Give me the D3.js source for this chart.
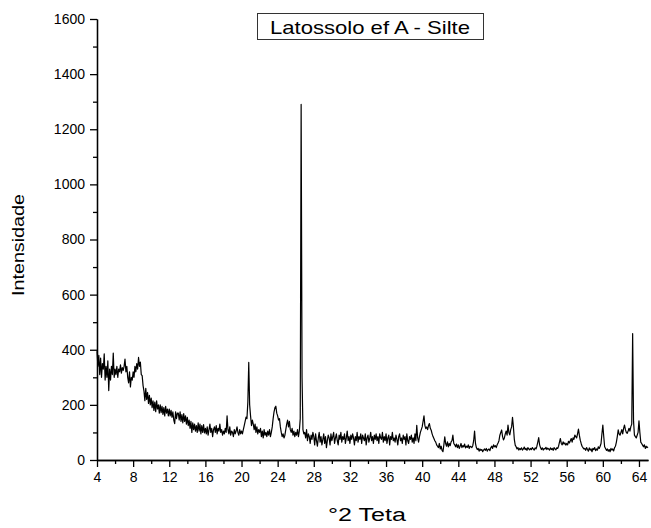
<!DOCTYPE html>
<html><head><meta charset="utf-8">
<script src="https://cdn.jsdelivr.net/npm/d3@7"></script>
<style>body{margin:0;background:#fff}svg{display:block}</style>
</head><body>
<script>
const title = "Latossolo ef A - Silte";
const xTitle = "°2 Teta";
const yTitle = "Intensidade";
const xStart = 4.0, xStep = 0.1;
const xTickValues = [4,8,12,16,20,24,28,32,36,40,44,48,52,56,60,64];
const xMinorTicks = [6,10,14,18,22,26,30,34,38,42,46,50,54,58,62];
const yTickValues = [0,200,400,600,800,1000,1200,1400,1600];
const yMinorTicks = [100,300,500,700,900,1100,1300,1500];
// intensity, one value per 0.1 degree from 4.0
const intensity = [
395,340,380,310,370,300,350,330,385,290,
340,300,360,252,330,290,340,310,388,300,
330,310,340,300,330,320,345,315,335,325,
340,366,320,340,300,280,320,265,300,290,
320,300,340,320,350,330,372,340,355,310,
306,270,250,215,260,220,245,205,235,200,
225,190,215,180,210,175,215,185,200,170,
200,172,195,165,190,160,195,170,185,160,
185,160,180,155,175,145,132,175,150,170,
170,145,175,140,165,135,168,140,160,130,
155,125,145,115,140,100,135,110,130,105,
125,100,135,105,130,95,125,100,128,98,
115,95,120,90,110,130,100,115,85,110,
120,100,125,95,115,105,130,100,110,90,
105,95,115,100,160,110,95,120,90,105,
100,85,110,95,105,120,100,90,110,95,
105,95,110,125,140,156,150,210,354,200,
160,125,145,130,110,130,100,120,95,110,
100,115,85,105,80,110,90,100,85,105,
90,110,85,100,120,150,175,190,195,170,
160,145,150,120,100,85,95,80,90,110,
130,145,120,140,110,100,115,90,105,85,
100,90,110,85,105,150,1290,300,110,95,
100,80,110,70,95,85,60,90,75,100,
85,55,95,70,50,80,100,65,85,55,
75,95,60,85,45,70,90,80,55,95,
70,85,100,60,80,95,70,55,90,75,
100,65,85,75,95,60,80,105,70,85,
60,90,75,95,80,55,85,70,100,65,
85,75,95,60,90,80,70,95,55,80,
90,65,80,100,70,85,60,90,75,95,
70,85,60,95,80,75,100,65,85,70,
95,60,80,90,55,85,75,100,70,80,
65,90,75,55,85,95,70,80,60,90,
75,85,55,95,70,60,85,75,90,65,
80,60,95,70,126,80,65,85,100,110,
120,140,160,125,114,120,110,125,132,115,
108,95,85,78,70,65,55,50,45,60,
40,50,35,30,55,84,60,50,66,48,
60,52,66,70,90,60,55,48,58,45,
55,42,50,60,45,52,48,58,44,50,
46,55,42,50,48,45,52,70,105,60,
45,38,42,32,40,35,38,30,36,40,
35,42,32,38,40,34,45,50,42,55,
48,52,45,55,62,70,90,100,109,85,
73,80,95,105,90,127,100,91,110,120,
155,120,75,54,48,40,45,36,42,38,
44,36,40,47,38,42,35,45,40,37,
42,38,45,40,36,44,40,50,65,81,
55,45,38,44,36,42,40,46,38,43,
40,36,44,38,42,35,45,40,37,44,
42,50,65,78,60,55,66,58,62,54,
60,55,68,62,70,78,65,80,75,90,
85,80,95,112,90,72,60,50,45,40,
42,35,45,38,32,44,36,40,30,42,
38,45,34,40,36,48,42,50,60,95,
127,85,48,42,35,40,32,38,30,42,
36,40,33,45,50,65,85,109,95,90,
100,110,95,115,127,110,100,97,105,115,
105,121,130,459,140,90,85,80,90,100,
142,100,65,60,54,48,55,42,50,45,
48
];
const data = intensity.map((v,i)=>({x: xStart + i*xStep, y: v}));

const W = 651, H = 528;
const svg = d3.select("body").append("svg").attr("width",W).attr("height",H)
  .style("font-family","'Liberation Sans', Arial, sans-serif");

const x = d3.scaleLinear().domain([4,65]).range([97,648]);
const y = d3.scaleLinear().domain([0,1600]).range([460,19]);

// line
svg.append("path").datum(data)
  .attr("fill","none").attr("stroke","#000").attr("stroke-width",1.2)
  .attr("stroke-linejoin","round")
  .attr("d", d3.line().x(d=>x(d.x)).y(d=>y(d.y)));

// x axis
const gx = svg.append("g").attr("transform","translate(0,460)");
gx.call(d3.axisBottom(x).tickValues(xTickValues).tickSize(7).tickSizeOuter(0).tickPadding(5).tickFormat(d3.format("d")));
gx.append("g").call(d3.axisBottom(x).tickValues(xMinorTicks).tickSize(4).tickSizeOuter(0).tickFormat(""));
gx.selectAll("text").attr("font-size",14).attr("fill","#000");

// y axis
const gy = svg.append("g").attr("transform","translate(97,0)");
gy.call(d3.axisLeft(y).tickValues(yTickValues).tickSize(7).tickSizeOuter(0).tickPadding(5).tickFormat(d3.format("d")));
gy.append("g").call(d3.axisLeft(y).tickValues(yMinorTicks).tickSize(4).tickSizeOuter(0).tickFormat(""));
gy.selectAll("text").attr("font-size",14).attr("fill","#000");
svg.selectAll(".domain").attr("stroke","#000").attr("stroke-width",1.3);
svg.selectAll(".tick line").attr("stroke","#000").attr("stroke-width",1.3);

// axis titles
svg.append("text").attr("transform","translate(24,245) rotate(-90)")
  .attr("text-anchor","middle").attr("font-size",16).attr("fill","#000")
  .attr("textLength",102).attr("lengthAdjust","spacingAndGlyphs").text(yTitle);
svg.append("text").attr("x",367).attr("y",521)
  .attr("text-anchor","middle").attr("font-size",18).attr("fill","#000")
  .attr("textLength",78).attr("lengthAdjust","spacingAndGlyphs").text(xTitle);

// title box
svg.append("rect").attr("x",257.5).attr("y",13.5).attr("width",226).attr("height",26)
  .attr("fill","#fff").attr("stroke","#333").attr("stroke-width",1);
svg.append("text").attr("x",370).attr("y",34).attr("text-anchor","middle")
  .attr("font-size",19).attr("fill","#000")
  .attr("textLength",200).attr("lengthAdjust","spacingAndGlyphs").text(title);
</script>
</body></html>
